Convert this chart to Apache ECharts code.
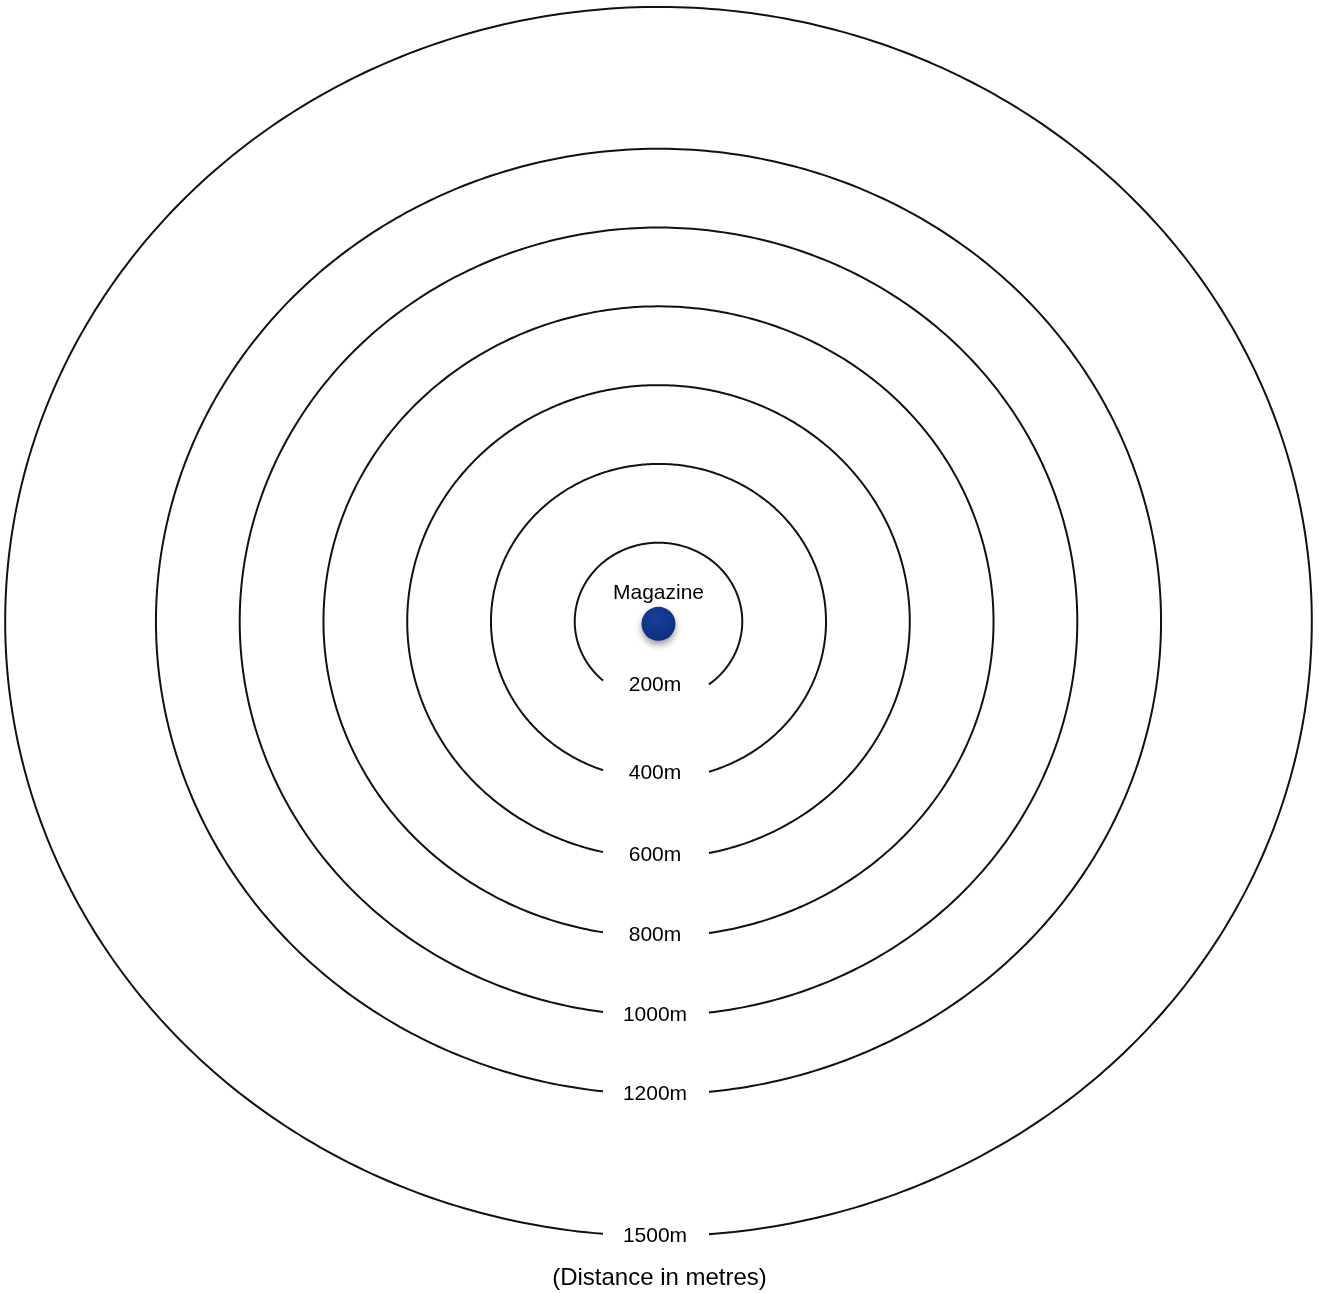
<!DOCTYPE html>
<html>
<head>
<meta charset="utf-8">
<script src="https://cdn.jsdelivr.net/npm/echarts@6/dist/echarts.min.js"></script>
<style>
html,body{margin:0;padding:0;background:#fff;}
#chart{width:1319px;height:1293px;}
</style>
</head>
<body>
<div id="chart"></div>
<script>
// Ring distances as drawn (scale units) and their labels
const ringLabels = ['200m', '400m', '600m', '800m', '1000m', '1200m', '1500m'];
const ringRadius = [200, 400, 600, 800, 1000, 1200, 1560];
const centerName = 'Magazine';
const centerPoint = [0, -6];
const chartTitle = '(Distance in metres)';

const FONT = '"Liberation Sans", Arial, Helvetica, sans-serif';

const chart = echarts.init(document.getElementById('chart'), null, {renderer: 'canvas'});

function renderRing(params, api) {
  const r = api.value(0);
  const c = api.coord([0, 0]);
  const px = api.coord([r, 0]);
  const py = api.coord([0, r]);
  const rx = px[0] - c[0];
  const ry = c[1] - py[1];
  const gapLeft = 55.5, gapRight = 50.5;
  const tL = Math.acos(-gapLeft / rx);
  const tR = Math.acos(gapRight / rx) + Math.PI * 2;
  const N = 480;
  const pts = [];
  for (let i = 0; i <= N; i++) {
    const t = tL + (tR - tL) * i / N;
    pts.push([c[0] + rx * Math.cos(t), c[1] + ry * Math.sin(t)]);
  }
  const yEnd = c[1] + ry * (Math.sin(tL) + Math.sin(tR)) / 2;
  return {
    type: 'group',
    children: [
      {
        type: 'polyline',
        shape: {points: pts},
        style: {stroke: '#111', lineWidth: 2, fill: null}
      },
      {
        type: 'text',
        x: c[0] - 3.5,
        y: yEnd + 2.5,
        style: {
          text: ringLabels[params.dataIndex],
          fontSize: 21,
          fontFamily: FONT,
          fill: '#000',
          align: 'center',
          verticalAlign: 'middle',
          textAlign: 'center',
          textVerticalAlign: 'middle'
        }
      }
    ]
  };
}

const option = {
  animation: false,
  backgroundColor: '#fff',
  title: {
    text: chartTitle,
    left: 'center',
    top: 1261,
    textStyle: {fontSize: 24, fontWeight: 'normal', color: '#000', fontFamily: FONT}
  },
  grid: {left: 1, top: 3, width: 1315, height: 1237, containLabel: false},
  xAxis: {type: 'value', min: -1570, max: 1570, show: false},
  yAxis: {type: 'value', min: -1570, max: 1570, show: false},
  series: [
    {
      type: 'custom',
      renderItem: renderRing,
      data: ringRadius.map(r => [r]),
      encode: {x: 0},
      silent: true,
      clip: false
    },
    {
      type: 'scatter',
      data: [centerPoint],
      symbol: 'circle',
      symbolSize: 34,
      itemStyle: {
        opacity: 1,
        color: {
          type: 'radial', x: 0.45, y: 0.35, r: 0.65,
          colorStops: [{offset: 0, color: '#17409a'}, {offset: 1, color: '#0e2f80'}]
        },
        shadowBlur: 7,
        shadowColor: 'rgba(0,0,0,0.4)',
        shadowOffsetX: 0,
        shadowOffsetY: 4
      },
      label: {
        show: true,
        position: 'top',
        distance: 3,
        formatter: centerName,
        fontSize: 21,
        fontFamily: FONT,
        color: '#000',
        opacity: 1
      },
      silent: true
    }
  ]
};
chart.setOption(option);
</script>
</body>
</html>
